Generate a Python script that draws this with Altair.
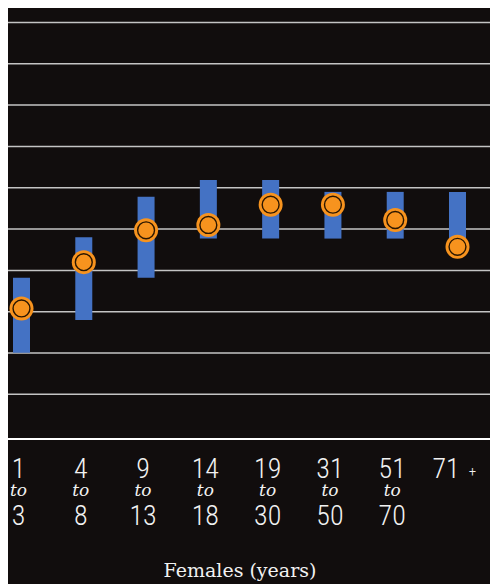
import altair as alt
import pandas as pd

# ---- data ----
age_from = ["1", "4", "9", "14", "19", "31", "51", "71"]
age_to = ["3", "8", "13", "18", "30", "50", "70", ""]
age_mid = ["to", "to", "to", "to", "to", "to", "to", ""]
range_low = [2.01, 2.80, 3.82, 4.77, 4.77, 4.77, 4.77, 4.61]
range_high = [3.82, 4.80, 5.78, 6.19, 6.19, 5.90, 5.90, 5.90]
point_val = [3.08, 4.20, 4.97, 5.10, 5.59, 5.59, 5.22, 4.57]
grid_vals = [1, 2, 3, 4, 5, 6, 7, 8, 9, 10]
x_title = "Females (years)"

groups = [f"g{i}" for i in range(len(age_from))]
df = pd.DataFrame({
    "group": groups,
    "from": age_from,
    "to": age_to,
    "mid": age_mid,
    "low": range_low,
    "high": range_high,
    "val": point_val,
})
grid_df = pd.DataFrame({"g": grid_vals})

W = 482
H = 431
BG = "#110d0d"
BLUE = "#4472C4"
ORANGE = "#F7931E"
TXT = "#f2f2f2"

xs = alt.X("group:N", sort=groups,
           scale=alt.Scale(type="point", range=[13.5, 449.5], padding=0),
           axis=None)
yscale = alt.Scale(domain=[-0.08, 10.35], nice=False, zero=False)

grid = alt.Chart(grid_df).mark_rule(color="#c4c4c4", strokeWidth=1.5).encode(
    y=alt.Y("g:Q", scale=yscale, axis=None),
    x=alt.value(0), x2=alt.value(W))
baseline = alt.Chart(pd.DataFrame({"b": [0]})).mark_rule(
    color="#ffffff", strokeWidth=2).encode(
    y=alt.value(H), x=alt.value(0), x2=alt.value(W))

base = alt.Chart(df)

bars = base.mark_bar(color=BLUE, size=17).encode(
    x=xs,
    y=alt.Y("low:Q", scale=yscale, axis=None),
    y2="high:Q",
)

outer = base.mark_point(shape="circle", filled=True, color=ORANGE,
                        size=576, opacity=1).encode(
    x=xs, y=alt.Y("val:Q", scale=yscale))
inner = base.mark_point(shape="circle", filled=False, fill=ORANGE,
                        stroke="#2a1600", strokeWidth=1.4, size=285,
                        opacity=1).encode(
    x=xs, y=alt.Y("val:Q", scale=yscale))

num_font = "Roboto Condensed, Liberation Sans Narrow, DejaVu Sans Condensed, Roboto, sans-serif"

top_lbl = base.transform_filter(alt.datum["to"] != "").mark_text(
    font=num_font, fontSize=28, fontWeight=300, color=TXT,
    baseline="alphabetic", align="center", dx=-3).encode(
    x=xs, y=alt.value(470), text="from:N")
top71 = base.transform_filter(alt.datum["to"] == "").mark_text(
    font=num_font, fontSize=28, fontWeight=300, color=TXT,
    baseline="alphabetic", align="center", dx=-11.5).encode(
    x=xs, y=alt.value(470), text="from:N")
plus71 = base.transform_filter(alt.datum["to"] == "").mark_text(
    font=num_font, fontSize=15, fontWeight=300, color=TXT,
    baseline="alphabetic", align="center", dx=15).encode(
    x=xs, y=alt.value(468), text=alt.value("+"))
mid_lbl = base.mark_text(
    font="DejaVu Serif", fontStyle="italic", fontSize=17, color=TXT,
    baseline="alphabetic", align="center", dx=-3).encode(
    x=xs, y=alt.value(488), text="mid:N")
bot_lbl = base.mark_text(
    font=num_font, fontSize=28, fontWeight=300, color=TXT,
    baseline="alphabetic", align="center", dx=-3).encode(
    x=xs, y=alt.value(517), text="to:N")

title = alt.Chart(pd.DataFrame({"t": [x_title]})).mark_text(
    font="DejaVu Serif", fontSize=19, color=TXT, baseline="alphabetic",
    align="center").encode(x=alt.value(232), y=alt.value(569), text="t:N")

chart = alt.layer(grid, baseline, bars, outer, inner, top_lbl, top71, plus71,
                  mid_lbl, bot_lbl, title).properties(
    width=W, height=H, background=BG,
    autosize=alt.AutoSizeParams(type="none"),
    padding={"left": 0, "top": 0, "right": 0, "bottom": 145},
).configure_view(stroke=None)

chart.save("out.html", embed_options={"renderer": "svg", "actions": False})
